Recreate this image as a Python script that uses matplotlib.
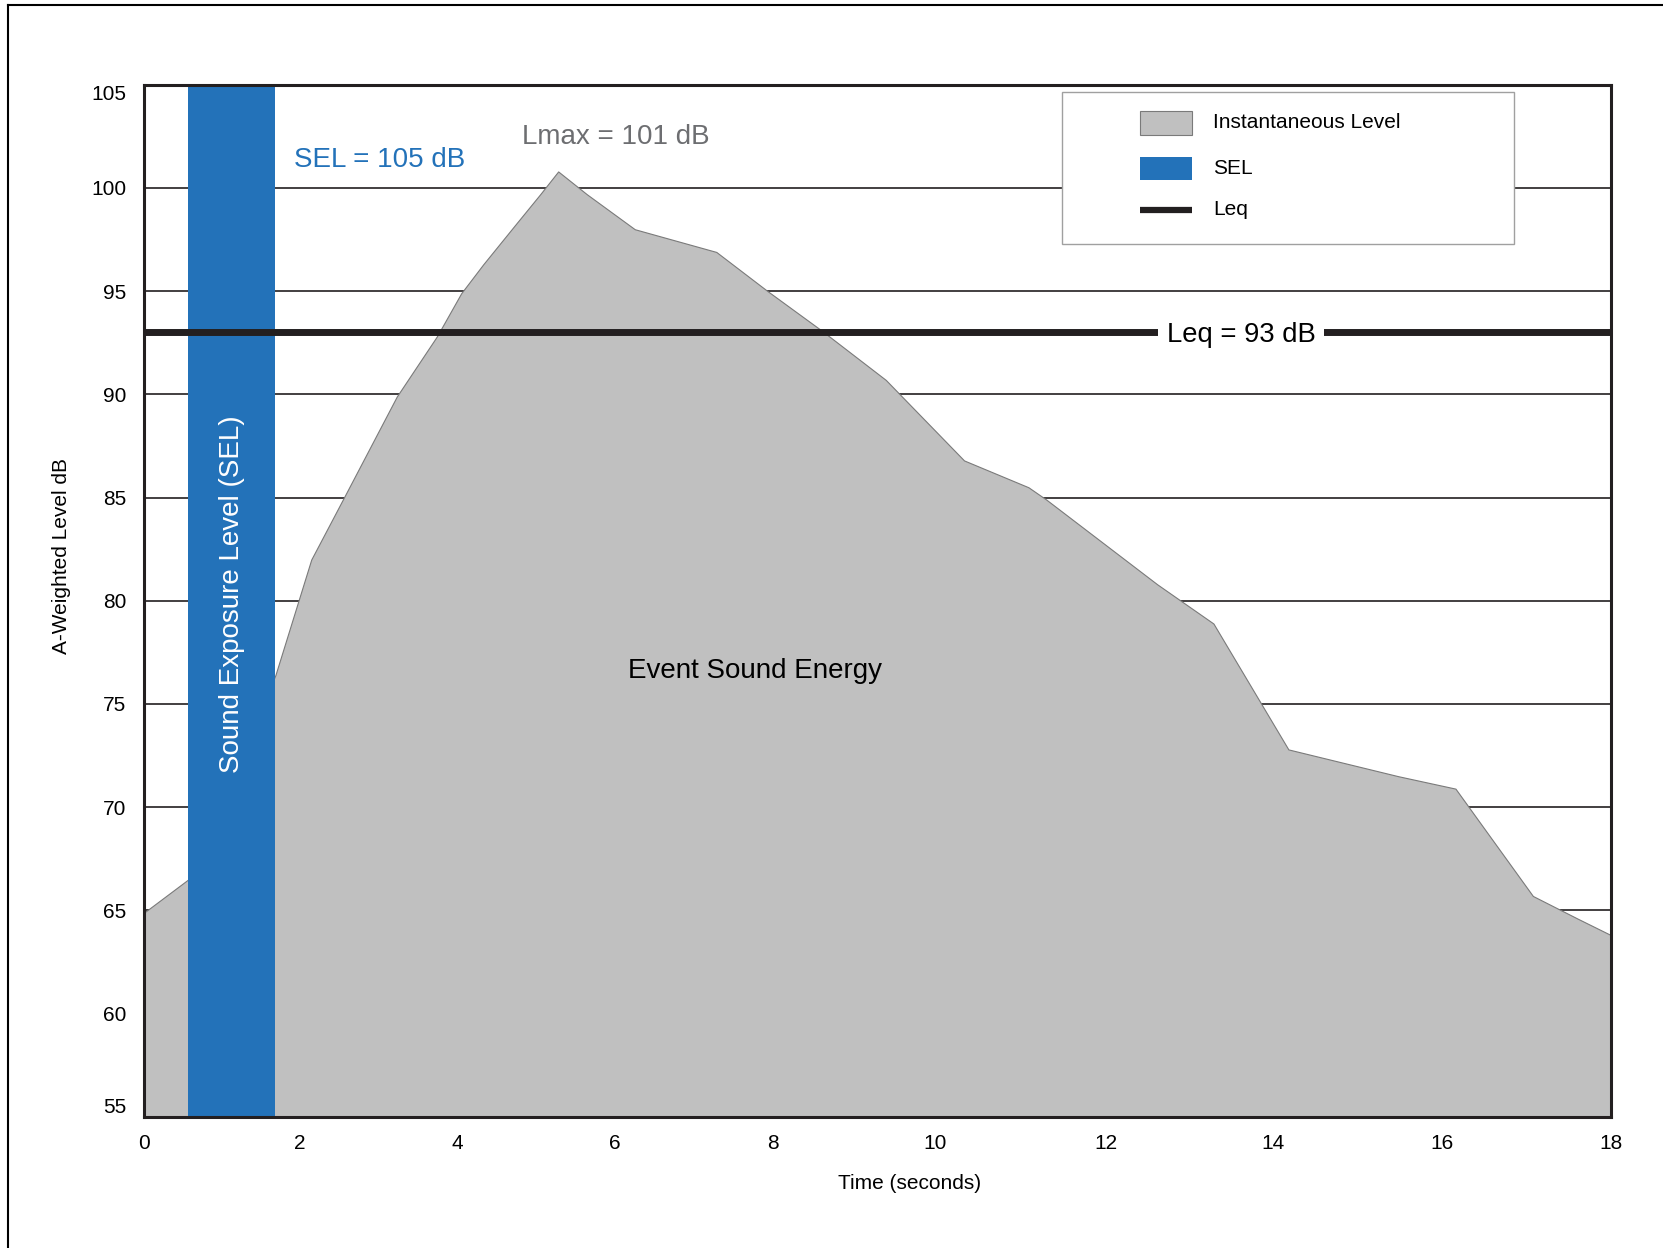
import numpy as np
import matplotlib.pyplot as plt
from matplotlib.lines import Line2D
from matplotlib.patches import Rectangle

plt.rcParams['font.family'] = ['Liberation Sans', 'DejaVu Sans']

# instantaneous A-weighted level
time_s = [0, 0.54, 1.61, 2.05, 2.45, 3.10, 3.59, 3.89, 4.16, 4.55, 4.86, 5.08,
          5.43, 6.02, 7.02, 7.65, 8.31, 9.10, 10.06, 10.85, 11.07, 12.43, 13.12,
          14.04, 15.39, 16.09, 17.04, 17.59, 18.0]
level_db = [64.9, 66.5, 76.4, 82.0, 85.0, 89.9, 92.8, 94.9, 96.3, 98.2, 99.7, 100.8,
            99.7, 98.0, 96.9, 95.0, 93.1, 90.7, 86.8, 85.5, 84.9, 80.8, 78.9,
            72.8, 71.5, 70.9, 65.7, 64.6, 63.8]

sel_start, sel_end = 0.54, 1.61
sel_db = 105
leq_db = 93
lmax_db = 101

y_ticks = [55, 60, 65, 70, 75, 80, 85, 90, 95, 100, 105]
# x tick labels sit a bit unevenly in the original
x_tick_pos = [0, 1.91, 3.84, 5.77, 7.71, 9.71, 11.80, 13.85, 15.93, 18.0]
x_tick_labels = ['0', '2', '4', '6', '8', '10', '12', '14', '16', '18']

legend_labels = ['Instantaneous Level', 'SEL', 'Leq']

grey = '#c0c0c0'
blue = '#2372b9'
dark = '#231f20'

fig = plt.figure(figsize=(16.63, 12.48), dpi=100)
ax = fig.add_axes([0.0867, 0.1051, 0.8821, 0.8270])

ax.set_xlim(0, 18)
ax.set_ylim(55, 105)

# grid behind everything
for y in y_ticks[1:-1]:
    ax.axhline(y, color=dark, lw=1.2, zorder=1)

ax.fill_between(time_s, 55, level_db, facecolor=grey, edgecolor='#7a7a7a',
                lw=0.8, zorder=2)
ax.axvspan(sel_start, sel_end, color=blue, lw=0, zorder=3)
ax.axhline(leq_db, color=dark, lw=5, zorder=6)

ax.text((sel_start + sel_end) / 2, 80.3, 'Sound Exposure Level (SEL)', rotation=90,
        color='white', fontsize=20, ha='center', va='center', zorder=4)
ax.text(1.835, 101.35, f'SEL = {sel_db} dB', color=blue, fontsize=20,
        ha='left', va='center', zorder=4)
ax.text(4.63, 102.45, f'Lmax = {lmax_db} dB', color='#6d6e71', fontsize=20,
        ha='left', va='center', zorder=4)
ax.text(13.46, leq_db - 0.1, f'Leq = {leq_db} dB', color='black', fontsize=19.8,
        ha='center', va='center', zorder=7,
        bbox=dict(boxstyle='square,pad=0.3', fc='white', ec='none'))
ax.text(7.50, 76.6, 'Event Sound Energy', color='black', fontsize=20,
        ha='center', va='center', zorder=4)

ax.set_yticks(y_ticks)
ax.set_xticks(x_tick_pos)
ax.set_xticklabels(x_tick_labels)
ax.tick_params(axis='both', length=0, labelsize=15)
ax.tick_params(axis='y', pad=13)
ax.tick_params(axis='x', pad=12)
ylabs = ax.get_yticklabels()
ylabs[0].set_va('bottom')
ylabs[-1].set_va('top')

ax.set_xlabel('Time (seconds)', fontsize=15)
ax.set_ylabel('A-Weighted Level dB', fontsize=15)
ax.xaxis.set_label_coords(0.522, -0.055)
ax.yaxis.set_label_coords(-0.050, 0.543)

for s in ax.spines.values():
    s.set_linewidth(2.2)
    s.set_color(dark)
    s.set_zorder(8)

# legend box drawn by hand to match the wide frame
ax.add_patch(Rectangle((0.6255, 0.846), 0.3085, 0.147, transform=ax.transAxes,
                       fc='white', ec='#a0a0a0', lw=1, zorder=9))
rows = [0.963, 0.919, 0.879]
hx0, hx1, tx = 0.679, 0.7144, 0.7289
ph = 0.0226
ax.add_patch(Rectangle((hx0, rows[0] - ph / 2), hx1 - hx0, ph, transform=ax.transAxes,
                       fc=grey, ec='#7a7a7a', lw=0.8, zorder=10))
ax.add_patch(Rectangle((hx0, rows[1] - ph / 2), hx1 - hx0, ph, transform=ax.transAxes,
                       fc=blue, ec='none', zorder=10))
ax.add_line(Line2D([hx0, hx1], [rows[2], rows[2]], transform=ax.transAxes,
                   color=dark, lw=4.5, solid_capstyle='butt', zorder=10))
for r, lab in zip(rows, legend_labels):
    ax.text(tx, r, lab, transform=ax.transAxes, fontsize=15, ha='left',
            va='center', zorder=10)

# outer border on left and top
fig.add_artist(Line2D([0.0051, 0.0051], [0, 0.996], color='black', lw=1.5))
fig.add_artist(Line2D([0.0051, 1], [0.996, 0.996], color='black', lw=1.5))

fig.savefig('out.png', dpi=100)
